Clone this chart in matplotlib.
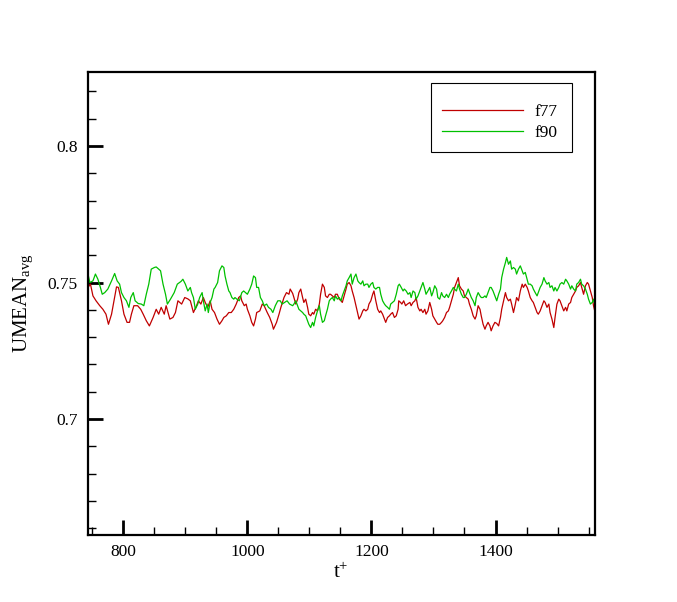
import matplotlib
matplotlib.use('Agg')
import matplotlib.pyplot as plt
from matplotlib.patches import Rectangle
import numpy as np

plt.rcParams['font.family'] = ['Liberation Serif', 'DejaVu Serif']
plt.rcParams['mathtext.fontset'] = 'custom'
plt.rcParams['mathtext.rm'] = 'Liberation Serif'
plt.rcParams['mathtext.it'] = 'Liberation Serif:italic'

# f77 series (t+, UMEAN_avg)
t_f77 = [743, 747, 751, 756, 762, 767, 772, 776, 781, 785, 789, 792, 797, 801, 806, 810,
         813, 817, 823, 828, 832, 837, 842, 848, 853, 857, 861, 866, 869, 875, 880, 884,
         888, 894, 899, 904,
         908, 913, 918, 921, 925, 929, 932, 936, 940, 943, 947, 951, 955, 959, 962, 966,
         970, 974, 978, 982, 986, 989, 991, 995, 998, 1000, 1004, 1007, 1010, 1013, 1015,
         1020, 1024, 1027, 1032, 1036, 1040, 1042, 1047, 1051, 1054, 1059, 1063, 1067, 1069,
         1073, 1075, 1078, 1081, 1083, 1086, 1089, 1091, 1094, 1097, 1099, 1102, 1105, 1107,
         1110, 1113, 1116, 1118, 1121, 1124, 1126, 1129, 1132, 1134, 1137, 1140, 1142, 1145,
         1148, 1151, 1153, 1156, 1159, 1161, 1164, 1167, 1169, 1172, 1175, 1178, 1180, 1183,
         1186, 1188, 1191, 1194, 1196, 1199, 1202, 1204, 1207, 1210, 1213, 1215, 1218, 1221,
         1223, 1226, 1229, 1231, 1234,
         1237, 1240, 1243, 1244, 1247, 1249, 1252, 1255, 1258, 1262, 1264, 1267, 1270, 1272,
         1275, 1278, 1280, 1283, 1286, 1288, 1291, 1294, 1297, 1299, 1302, 1305, 1307, 1310,
         1313, 1315, 1318, 1321, 1324, 1326, 1329, 1332, 1334, 1337, 1340, 1342, 1345, 1348,
         1350, 1353, 1356, 1358, 1361, 1364, 1367, 1369, 1372, 1375, 1377, 1380, 1383, 1385,
         1388, 1391, 1393, 1396, 1399,
         1402, 1405, 1408, 1410, 1413, 1416, 1418, 1421, 1424, 1426, 1429, 1432, 1434, 1437,
         1440, 1443, 1445, 1448, 1451, 1453, 1456, 1459, 1461, 1464, 1467, 1469, 1472, 1475,
         1478, 1480, 1483, 1486, 1488, 1491, 1494, 1496, 1499, 1502, 1504, 1507, 1510, 1513,
         1515, 1518, 1521, 1523, 1526, 1529, 1531, 1534, 1537, 1539, 1542, 1545, 1548, 1550,
         1553, 1556, 1558, 1560]
u_f77 = [0.7482, 0.7494, 0.7451, 0.7433, 0.7415, 0.7402, 0.7384, 0.7347, 0.7384, 0.7433,
         0.7484, 0.7482, 0.7433, 0.7384, 0.7354, 0.7354, 0.7384, 0.7415, 0.7415, 0.7402,
         0.7384, 0.7360, 0.7341, 0.7372, 0.7402, 0.7384, 0.7409, 0.7384, 0.7415, 0.7366,
         0.7372, 0.7390, 0.7433, 0.7421, 0.7445, 0.7440,
         0.7433, 0.7390, 0.7415, 0.7433, 0.7421, 0.7445, 0.7427, 0.7409, 0.7433, 0.7402,
         0.7390, 0.7366, 0.7347, 0.7360, 0.7372, 0.7378, 0.7390, 0.7390, 0.7402, 0.7421,
         0.7445, 0.7451, 0.7433, 0.7415, 0.7421, 0.7402, 0.7378, 0.7354, 0.7341, 0.7366,
         0.7390, 0.7396, 0.7421, 0.7415, 0.7390, 0.7372, 0.7347, 0.7329, 0.7354, 0.7384,
         0.7409, 0.7445, 0.7463, 0.7457, 0.7476,
         0.7460, 0.7445, 0.7421, 0.7439, 0.7463, 0.7476, 0.7445, 0.7427, 0.7439, 0.7409,
         0.7384, 0.7378, 0.7390, 0.7384, 0.7402, 0.7396, 0.7421, 0.7457, 0.7494, 0.7482,
         0.7451, 0.7445, 0.7457, 0.7457, 0.7451, 0.7445, 0.7457, 0.7457, 0.7439, 0.7433,
         0.7427, 0.7451, 0.7476, 0.7494, 0.7500, 0.7488, 0.7469, 0.7445, 0.7415, 0.7384,
         0.7366, 0.7378, 0.7396, 0.7402, 0.7396, 0.7402, 0.7421, 0.7433, 0.7457, 0.7469,
         0.7433, 0.7402, 0.7390, 0.7396, 0.7384, 0.7366, 0.7354, 0.7372, 0.7378, 0.7384,
         0.7390,
         0.7372, 0.7378, 0.7402, 0.7433, 0.7427, 0.7421, 0.7433, 0.7415, 0.7421, 0.7427,
         0.7415, 0.7427, 0.7433, 0.7445, 0.7409, 0.7396, 0.7402, 0.7390, 0.7402, 0.7384,
         0.7396, 0.7427, 0.7402, 0.7378, 0.7366, 0.7354, 0.7347, 0.7347, 0.7354, 0.7360,
         0.7372, 0.7390, 0.7396, 0.7409, 0.7433, 0.7457, 0.7482, 0.7500, 0.7518, 0.7488,
         0.7476, 0.7469, 0.7451, 0.7445, 0.7439, 0.7421, 0.7402, 0.7378, 0.7366, 0.7378,
         0.7415, 0.7402, 0.7378, 0.7347, 0.7329, 0.7341, 0.7354, 0.7341, 0.7323, 0.7341,
         0.7354,
         0.7350, 0.7341, 0.7372, 0.7402, 0.7433, 0.7463, 0.7445, 0.7433, 0.7439, 0.7421,
         0.7390, 0.7421, 0.7445, 0.7433, 0.7469, 0.7494, 0.7482, 0.7494, 0.7482, 0.7469,
         0.7445, 0.7433, 0.7427, 0.7409, 0.7390, 0.7384, 0.7396, 0.7415, 0.7433, 0.7427,
         0.7409, 0.7421, 0.7390, 0.7366, 0.7335, 0.7372, 0.7421, 0.7439, 0.7433, 0.7415,
         0.7396, 0.7409, 0.7396, 0.7421, 0.7427, 0.7445, 0.7457, 0.7469, 0.7482, 0.7488,
         0.7500, 0.7482, 0.7457, 0.7488, 0.7500, 0.7494, 0.7469, 0.7445, 0.7415, 0.7396]

# f90 series
t_f90 = [743, 746, 751, 755, 759, 763, 766, 770, 775, 781, 786, 790, 794, 797, 801, 805,
         809, 812, 816, 819, 824, 829, 833, 837, 841, 845, 850, 853, 857, 860, 864, 868,
         871, 876, 882, 887, 893, 896, 900, 904,
         908, 910, 913, 916, 920, 923, 927, 929, 932, 935, 937, 940, 943, 946, 948, 952,
         955, 959, 962, 964, 967, 970, 972, 975, 978, 980, 983, 987, 991, 994, 997, 1000,
         1004, 1007, 1010, 1013, 1015, 1018, 1021, 1024, 1027, 1031, 1034, 1038, 1041, 1045,
         1049, 1053, 1056, 1060, 1064, 1068,
         1073, 1075, 1078, 1081, 1083, 1086, 1089, 1091, 1094, 1097, 1099, 1102, 1105, 1107,
         1110, 1113, 1116, 1118, 1121, 1124, 1126, 1129, 1132, 1134, 1137, 1140, 1142, 1145,
         1148, 1151, 1153, 1156, 1159, 1161, 1164, 1167, 1169, 1172, 1175, 1178, 1180, 1183,
         1186, 1188, 1191, 1194, 1196, 1199, 1202, 1204, 1207, 1210, 1213, 1215, 1218, 1221,
         1223, 1226, 1229, 1231, 1234,
         1237, 1240, 1243, 1245, 1248, 1251, 1253, 1256, 1259, 1262, 1264, 1267, 1270, 1272,
         1275, 1278, 1280, 1283, 1286, 1288, 1291, 1294, 1297, 1299, 1302, 1305, 1307, 1310,
         1313, 1315, 1318, 1321, 1324, 1326, 1329, 1332, 1334, 1337, 1340, 1342, 1345, 1348,
         1350, 1353, 1356, 1358, 1361, 1364, 1367, 1369, 1372, 1375, 1377, 1380, 1383, 1385,
         1388, 1391, 1393, 1396, 1399,
         1402, 1405, 1408, 1410, 1413, 1416, 1418, 1421, 1424, 1426, 1429, 1432, 1434, 1437,
         1440, 1443, 1445, 1448, 1451, 1453, 1456, 1459, 1461, 1464, 1467, 1469, 1472, 1475,
         1478, 1480, 1483, 1486, 1488, 1491, 1494, 1496, 1499, 1502, 1504, 1507, 1510, 1513,
         1515, 1518, 1521, 1523, 1526, 1529, 1531, 1534, 1537, 1539, 1542, 1545, 1548, 1550,
         1553, 1556, 1558, 1560]
u_f90 = [0.7531, 0.7500, 0.7506, 0.7531, 0.7512, 0.7482, 0.7457, 0.7463, 0.7476, 0.7506,
         0.7533, 0.7506, 0.7494, 0.7463, 0.7445, 0.7433, 0.7409, 0.7445, 0.7463, 0.7433,
         0.7423, 0.7421, 0.7415, 0.7457, 0.7494, 0.7549, 0.7555, 0.7557, 0.7549, 0.7543,
         0.7494, 0.7457, 0.7421, 0.7439, 0.7463, 0.7494, 0.7504, 0.7512, 0.7494, 0.7469,
         0.7482, 0.7463, 0.7445, 0.7402, 0.7421, 0.7445, 0.7463, 0.7433, 0.7396, 0.7421,
         0.7390, 0.7427, 0.7445, 0.7476, 0.7482, 0.7500, 0.7543, 0.7561, 0.7555, 0.7524,
         0.7494, 0.7469, 0.7463, 0.7445, 0.7439, 0.7445, 0.7439, 0.7433, 0.7463, 0.7469,
         0.7463, 0.7457, 0.7476, 0.7494, 0.7524, 0.7518, 0.7482, 0.7482, 0.7445, 0.7433,
         0.7415, 0.7421, 0.7409, 0.7402, 0.7390, 0.7415, 0.7433, 0.7433, 0.7421, 0.7427,
         0.7433, 0.7421,
         0.7415, 0.7421, 0.7433, 0.7415, 0.7402, 0.7396, 0.7390, 0.7384, 0.7378, 0.7360,
         0.7347, 0.7335, 0.7354, 0.7341, 0.7372, 0.7396, 0.7415, 0.7384, 0.7354, 0.7360,
         0.7378, 0.7402, 0.7433, 0.7439, 0.7445, 0.7433, 0.7451, 0.7439, 0.7445, 0.7433,
         0.7451, 0.7469, 0.7488, 0.7506, 0.7518, 0.7531, 0.7494, 0.7518, 0.7531, 0.7506,
         0.7500, 0.7494, 0.7506, 0.7488, 0.7494, 0.7494, 0.7482, 0.7494, 0.7500, 0.7482,
         0.7476, 0.7482, 0.7482, 0.7457, 0.7433, 0.7421, 0.7415, 0.7409, 0.7402, 0.7421,
         0.7427,
         0.7433, 0.7457, 0.7488, 0.7494, 0.7482, 0.7469, 0.7476, 0.7469, 0.7457, 0.7463,
         0.7445, 0.7469, 0.7463, 0.7439, 0.7451, 0.7469, 0.7482, 0.7500, 0.7476, 0.7457,
         0.7469, 0.7482, 0.7451, 0.7463, 0.7488, 0.7476, 0.7445, 0.7439, 0.7463, 0.7451,
         0.7445, 0.7457, 0.7445, 0.7457, 0.7469, 0.7482, 0.7476, 0.7469, 0.7494, 0.7476,
         0.7457, 0.7445, 0.7445, 0.7457, 0.7476, 0.7463, 0.7445, 0.7433, 0.7415, 0.7445,
         0.7463, 0.7451, 0.7445, 0.7445, 0.7451, 0.7445, 0.7463, 0.7482, 0.7482, 0.7469,
         0.7451,
         0.7433, 0.7457, 0.7476, 0.7518, 0.7549, 0.7573, 0.7592, 0.7567, 0.7579, 0.7549,
         0.7555, 0.7549, 0.7531, 0.7549, 0.7561, 0.7543, 0.7531, 0.7537, 0.7512, 0.7494,
         0.7494, 0.7488, 0.7476, 0.7463, 0.7451, 0.7463, 0.7482, 0.7494, 0.7518, 0.7506,
         0.7494, 0.7500, 0.7482, 0.7488, 0.7469, 0.7482, 0.7469, 0.7482, 0.7494, 0.7500,
         0.7494, 0.7512, 0.7506, 0.7494, 0.7476, 0.7488, 0.7476, 0.7469, 0.7494, 0.7500,
         0.7512, 0.7494, 0.7488, 0.7476, 0.7457, 0.7439, 0.7421, 0.7427, 0.7439, 0.7421]

fig = plt.figure(figsize=(6.77, 6.02), dpi=100)
ax = fig.add_axes([0.1295, 0.1118, 0.749, 0.768])

ax.plot(t_f77, u_f77, color='#c00000', lw=0.9, label='f77')
ax.plot(t_f90, u_f90, color='#00c000', lw=0.9, label='f90')

ax.set_xlim(742.5, 1560)
ax.set_ylim(0.6576, 0.827)
ax.set_xticks([800, 1000, 1200, 1400])
ax.set_xticks(np.arange(750, 1560, 50), minor=True)
ax.set_yticks([0.7, 0.75, 0.8])
ax.set_yticklabels(['0.7', '0.75', '0.8'])
ax.set_yticks(np.arange(0.66, 0.827, 0.01), minor=True)

ax.tick_params(which='both', direction='in', top=False, right=False, labelsize=12.5, pad=7)
ax.tick_params(which='major', length=11, width=2)
ax.tick_params(which='minor', length=6, width=1)
for s in ax.spines.values():
    s.set_linewidth(1.6)

ax.set_xlabel(r'$\mathrm{t}^{+}$', fontsize=15, labelpad=2)
ax.set_ylabel(r'UMEAN$_{\mathrm{avg}}$', fontsize=15, labelpad=9)

# legend entries without frame, box drawn separately (tecplot-style padding)
leg = ax.legend(loc='center left', bbox_to_anchor=(0.699, 0.8914), fontsize=12.5,
                frameon=False, handlelength=4.67, handletextpad=0.65,
                borderpad=0, labelspacing=0.3, borderaxespad=0)
ax.add_patch(Rectangle((0.677, 0.8276), 0.278, 0.1493, transform=ax.transAxes,
                       fill=False, edgecolor='black', lw=0.8, zorder=5))

plt.savefig('out.png', dpi=100)
